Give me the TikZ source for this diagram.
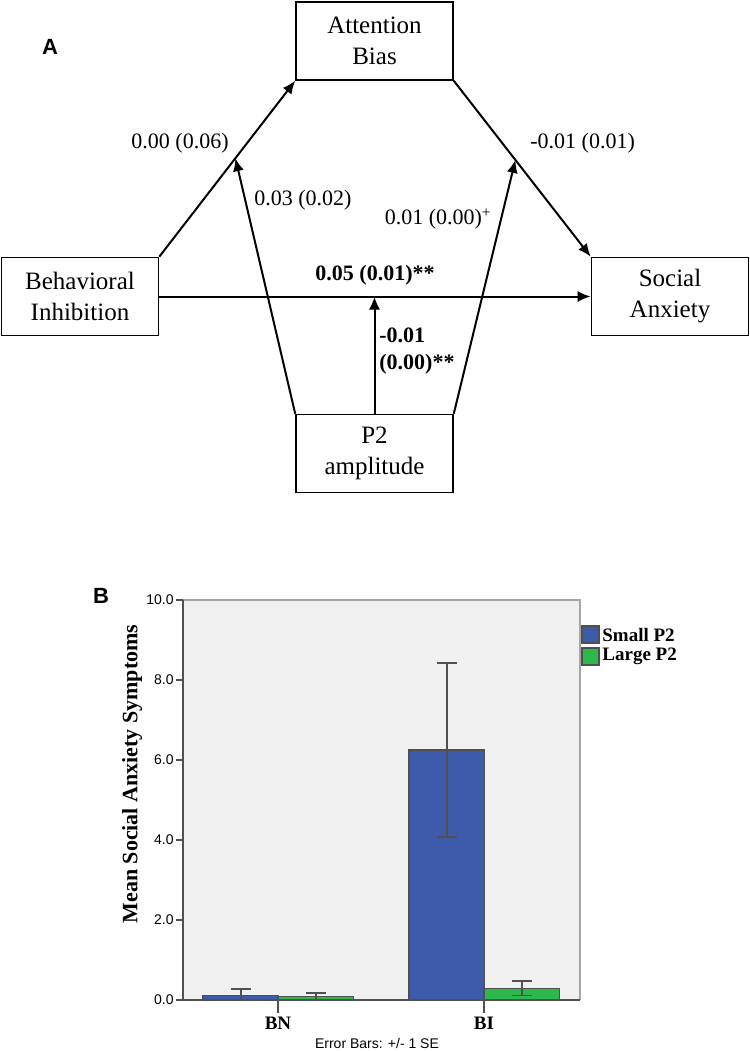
\documentclass[tikz,border=0pt]{standalone}
\usepackage{fontspec}
\setmainfont{Liberation Serif}
\setsansfont{Liberation Sans}
\usepackage{tikz}
\usetikzlibrary{shapes, arrows, arrows.meta, positioning, calc}

\definecolor{smallblue}{HTML}{3E5AAA}
\definecolor{largegreen}{HTML}{2DB84B}
\definecolor{chartbg}{HTML}{F0F0F0}
\definecolor{axisgray}{HTML}{505050}

\begin{document}
\begin{tikzpicture}[
    x=0.5pt, y=-0.5pt,
    box/.style={rectangle, draw, line width=0.8pt, minimum width=78.5pt, minimum height=39pt, inner sep=0pt, align=center, font=\fontsize{12.5}{15.5}\selectfont},
    coef/.style={font=\fontsize{11}{13.5}\selectfont, inner sep=1pt},
    link/.style={-{Latex[length=6.5pt,width=5.5pt]}, line width=1pt},
    panel/.style={font=\sffamily\bfseries\fontsize{11}{13}\selectfont},
    ticklabel/.style={font=\sffamily\fontsize{7}{8.5}\selectfont, inner sep=1pt},
    grouplabel/.style={font=\bfseries\fontsize{9.5}{11}\selectfont},
    legendtext/.style={font=\bfseries\fontsize{9.5}{11}\selectfont, inner sep=1pt},
    errbar/.style={draw=axisgray, line width=0.8pt}
]
\useasboundingbox (0,0) rectangle (750,1051);

% Panel A
\node[panel] (labA) at (50,47) {A};

% Variables
\node[box] (att) at (374.5,41) {Attention\\Bias};
\node[box] (beh) at (80,296.5) {Behavioral\\Inhibition};
\node[box] (soc) at (670,296.5) {Social\\Anxiety};
\node[box] (p2) at (374.5,453.5) {P2\\amplitude};

% Paths
\draw[link] (beh.north east) -- (att.south west);
\draw[link] (att.south east) -- (soc.north west);
\draw[link] (beh) -- (soc);
\coordinate (hitL) at ($(beh.north east)!0.56!(att.south west)$);
\coordinate (hitR) at ($(att.south east)!0.45!(soc.north west)$);
\draw[link] (p2.north west) -- (hitL);
\draw[link] (p2.north east) -- (hitR);
\draw[link] (p2.north) -- (p2.north |- beh.east);

% Coefficients
\node[coef, anchor=east] (cBA) at (231,143) {0.00 (0.06)};
\node[coef, anchor=west] (cAS) at (528,143) {-0.01 (0.01)};
\node[coef, anchor=west] (cPL) at (252,200) {0.03 (0.02)};
\node[coef, anchor=east] (cPR) at (494,219) {0.01 (0.00)\textsuperscript{+}};
\node[coef] (cBS) at (375,275) {\textbf{0.05 (0.01)**}};
\node[coef, anchor=west, align=left] (cPM) at (377,351.5) {\textbf{-0.01}\\\textbf{(0.00)**}};

% Panel B
\node[panel] (labB) at (101,596) {B};

% Plot area
\fill[chartbg] (183,600) rectangle (580,1000);
\draw[gray!70, line width=0.6pt] (183,600) -- (580,600) -- (580,1000);

% Bars with error bars
\foreach \xl/\val/\lo/\hi/\col in {203/0.12/0/0.27/smallblue, 278/0.09/0/0.18/largegreen, 409/6.25/4.08/8.42/smallblue, 484/0.29/0.11/0.47/largegreen} {
  \draw[draw=axisgray, fill=\col, line width=0.6pt] (\xl,1000) rectangle ({\xl+75.5},{1000-40*\val});
  \draw[errbar] ({\xl+37.75},{1000-40*\lo}) -- ({\xl+37.75},{1000-40*\hi});
  \draw[errbar] ({\xl+28},{1000-40*\lo}) -- ({\xl+47.5},{1000-40*\lo});
  \draw[errbar] ({\xl+28},{1000-40*\hi}) -- ({\xl+47.5},{1000-40*\hi});
}

% Axes
\draw[axisgray, line width=1pt] (183,600) -- (183,1000) -- (580,1000);
\foreach \v in {0,2,...,10} {
  \draw[axisgray, line width=0.8pt] (176,{1000-40*\v}) -- (183,{1000-40*\v});
  \node[ticklabel, anchor=east] (t\v) at (176,{1000-40*\v}) {\v.0};
}
\foreach \xc/\grp in {278/BN, 484/BI} {
  \draw[axisgray, line width=0.8pt] (\xc,1000) -- (\xc,1013);
  \node[grouplabel] (g\grp) at (\xc,1023) {\grp};
}
\node[grouplabel, font=\bfseries\fontsize{11}{13}\selectfont, rotate=90] (ytitle) at (132,774) {Mean Social Anxiety Symptoms};
\node[ticklabel] (errnote) at (377,1043) {Error Bars: +/- 1 SE};

% Legend
\draw[axisgray, fill=smallblue, line width=0.6pt] (582,626) rectangle (599,643);
\draw[axisgray, fill=largegreen, line width=0.6pt] (582,648) rectangle (599,665);
\node[legendtext, anchor=west] (legSmall) at (600,634.5) {Small P2};
\node[legendtext, anchor=west] (legLarge) at (600,656.5) {Large P2};

\end{tikzpicture}
\end{document}
